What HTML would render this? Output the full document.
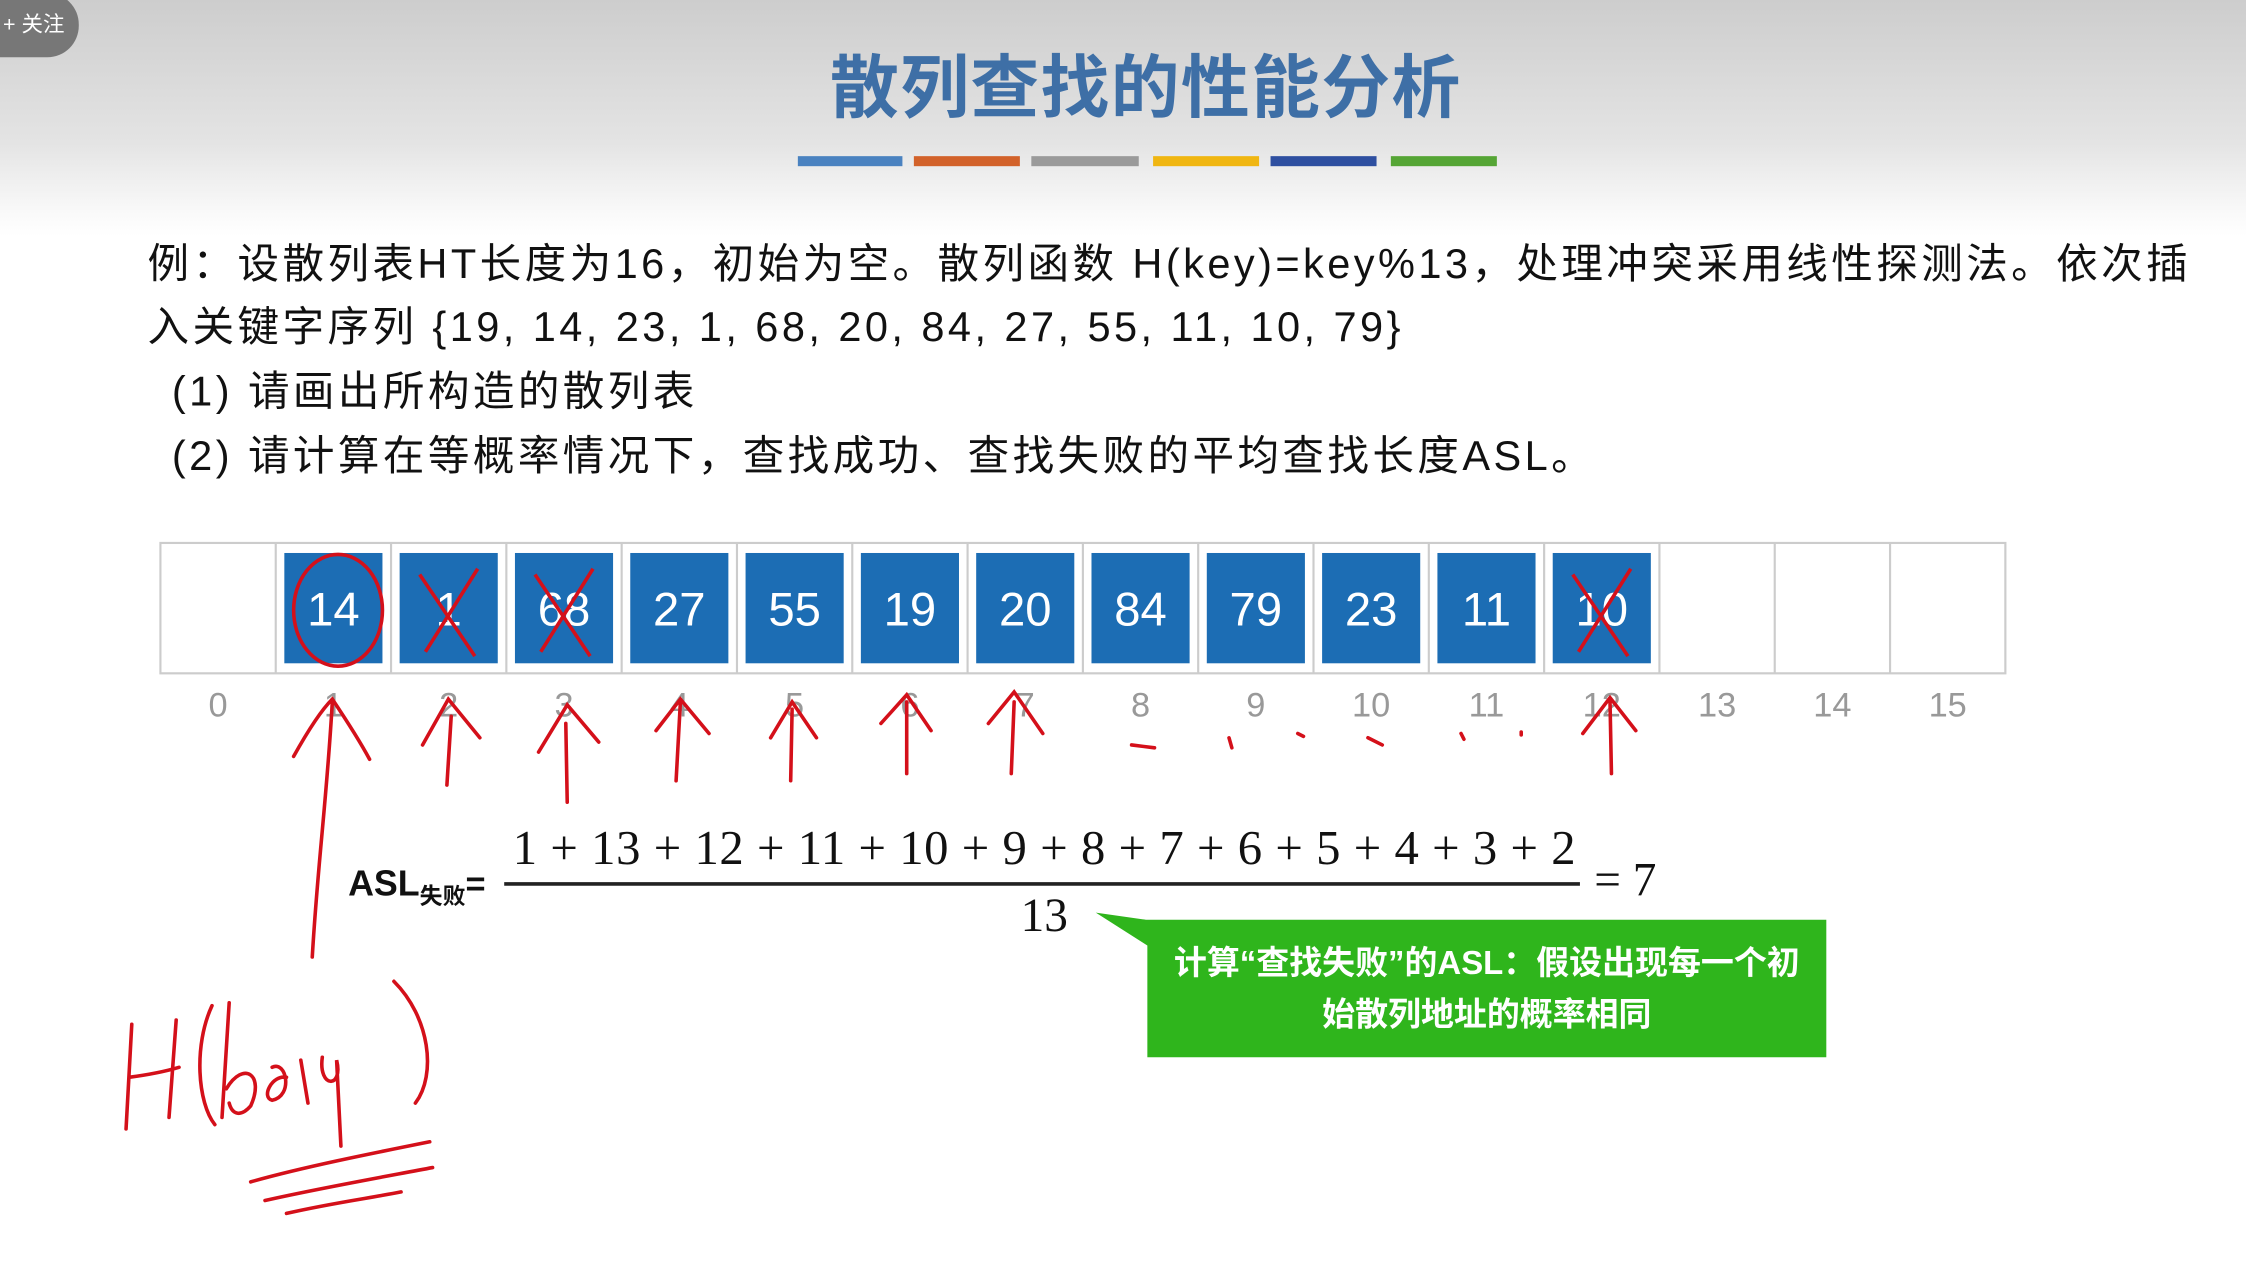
<!DOCTYPE html>
<html><head><meta charset="utf-8">
<style>
html,body{margin:0;padding:0;width:2246px;height:1265px;overflow:hidden;background:#fff}
#stage{position:absolute;left:0;top:0;width:1568px;height:883px;transform:scale(1.4324,1.4326);transform-origin:0 0;
 background:linear-gradient(#cdcdcd 0px,#e4e4e4 100px,#fafafa 150px,#fff 165px);font-family:"Liberation Sans","Noto Sans CJK SC",sans-serif}
.abs{position:absolute}
.txt{position:absolute;left:103px;font-size:29px;color:#111;white-space:nowrap;letter-spacing:2.4px}
</style></head><body>
<div id="stage">
 <div class="abs" style="left:-20px;top:-5px;width:75px;height:45px;border-radius:0 22px 22px 0;background:#777;color:#fff;font-size:15px;line-height:45px;text-align:right;padding-right:10px;box-sizing:border-box">+ 关注</div>
 <div class="abs" style="left:0;width:1600px;top:22px;text-align:center;font-size:48px;font-weight:bold;color:#3e6fa6;letter-spacing:1px">散列查找的性能分析</div>
 <div>
  <div class="abs" style="left:557px;top:109px;width:73px;height:7px;background:#4a82c0"></div>
  <div class="abs" style="left:638px;top:109px;width:74px;height:7px;background:#d2622a"></div>
  <div class="abs" style="left:720px;top:109px;width:75px;height:7px;background:#9a9a9a"></div>
  <div class="abs" style="left:805px;top:109px;width:74px;height:7px;background:#f0b612"></div>
  <div class="abs" style="left:887px;top:109px;width:74px;height:7px;background:#2e4fa0"></div>
  <div class="abs" style="left:971px;top:109px;width:74px;height:7px;background:#55a535"></div>
 </div>
 <div class="txt" style="top:161px">例：设散列表HT长度为16，初始为空。散列函数 H(key)=key%13，处理冲突采用线性探测法。依次插</div>
 <div class="txt" style="top:205px">入关键字序列 {19, 14, 23, 1, 68, 20, 84, 27, 55, 11, 10, 79}</div>
 <div class="txt" style="top:250px;left:120px">(1) 请画出所构造的散列表</div>
 <div class="txt" style="top:295px;left:120px">(2) 请计算在等概率情况下，查找成功、查找失败的平均查找长度ASL。</div>

 <svg class="abs" style="left:0;top:0" width="1568" height="883">
  <g id="table"></g>
  <g id="formula" font-family="Liberation Serif,serif" fill="#111">
   <text x="243" y="625" font-family="Liberation Sans,sans-serif" font-weight="bold" font-size="25">ASL<tspan font-size="16" dy="6" font-family="Noto Sans CJK SC,sans-serif">失败</tspan><tspan dy="-6" font-size="24">=</tspan></text>
   <text x="729" y="603" text-anchor="middle" font-size="34" textLength="742">1 + 13 + 12 + 11 + 10 + 9 + 8 + 7 + 6 + 5 + 4 + 3 + 2</text>
   <line x1="352" y1="617" x2="1103" y2="617" stroke="#222" stroke-width="2.5"/>
   <text x="729" y="650" text-anchor="middle" font-size="33">13</text>
   <text x="1113" y="625" font-size="33">= 7</text>
  </g>
  <g>
   <path d="M765,637 L800,642 L1275,642 L1275,738 L801,738 L801,660 Z" fill="#2fb51c"/>
   <text x="1038" y="680" text-anchor="middle" fill="#fff" font-size="23" font-weight="bold" font-family="Liberation Sans,Noto Sans CJK SC,sans-serif">计算“查找失败”的ASL：假设出现每一个初</text>
   <text x="1038" y="716" text-anchor="middle" fill="#fff" font-size="23" font-weight="bold" font-family="Liberation Sans,Noto Sans CJK SC,sans-serif">始散列地址的概率相同</text>
  </g>
  <g id="ink" fill="none" stroke="#d4101a" stroke-width="2.5" stroke-linecap="round">
   <ellipse cx="236" cy="426" rx="31" ry="39"/>
   <path d="M218,668 C222,600 228,560 232,490 M205,528 C215,510 225,495 232,488 C240,500 250,515 258,530"/>
   <path d="M88,788 L92,715 M90,752 C105,750 115,748 125,745 M123,712 L118,780"/>
   <path d="M148,702 C135,730 138,770 150,785"/>
   <path d="M160,700 L155,780 M158,760 C170,740 185,750 175,772 C168,780 162,778 160,770 M190,745 C200,740 205,765 190,768 C182,766 190,750 200,752 M210,740 L215,770 M225,738 C222,760 240,760 235,740 L238,800"/>
   <path d="M275,685 C300,710 305,750 290,770"/>
   <path d="M175,825 C210,815 260,805 300,797 M185,838 C220,830 265,822 302,815 M200,847 C230,840 260,836 280,832"/>
   <path d="M312,548 L315,500 M295,520 L313,488 L335,515"/>
   <path d="M396,560 L395,505 M376,525 L396,492 L418,518"/>
   <path d="M472,545 L475,490 M458,510 L475,488 L495,512"/>
   <path d="M552,545 L553,495 M538,515 L553,490 L570,515"/>
   <path d="M633,540 L633,490 M615,505 L633,485 L650,510"/>
   <path d="M706,540 L708,490 M690,505 L708,483 L728,512"/>
   <path d="M790,520 L806,522 M858,515 L860,522 M906,512 L910,514 M955,515 L965,520 M1020,512 L1022,516 M1062,511 L1062,513"/>
   <path d="M1125,540 L1124,490 M1105,512 L1124,487 L1142,510"/>
  </g>
 </svg>
</div>
<script>
const slotIndex=[0,1,2,3,4,5,6,7,8,9,10,11,12,13,14,15];
const slotKeys=[null,14,1,68,27,55,19,20,84,79,23,11,10,null,null,null];
const crossed=[false,false,true,true,false,false,false,false,false,false,false,false,true,false,false,false];
const NS='http://www.w3.org/2000/svg';
const g=document.getElementById('table');
const x0=112,cw=80.5,y0=379,h=91;
function cellX(i){return x0+i*cw;}
function mk(t,a){const e=document.createElementNS(NS,t);for(const k in a)e.setAttribute(k,a[k]);g.appendChild(e);return e;}
const outer=mk('rect',{x:x0,y:y0,width:cw*slotIndex.length,height:h,fill:'#fff',stroke:'#ccc','stroke-width':1.5});


slotIndex.forEach(i=>{
 const x=cellX(i);
 if(i>0){mk('line',{x1:x,y1:y0,x2:x,y2:y0+h,stroke:'#ccc','stroke-width':1.5});}
 const k=slotKeys[i];
 if(k!==null){
  const r=mk('rect',{x:x+6,y:y0+7,width:cw-12,height:h-14,fill:'#1c6db4'});
  
  
  const t=mk('text',{x:x+cw/2,y:y0+h/2+12,'text-anchor':'middle','font-size':33,fill:'#fff','font-family':'Liberation Sans,sans-serif'});
  t.textContent=k;
  
  
  if(crossed[i]){mk('path',{d:`M${x+20},${y0+22} L${x+cw-22},${y0+h-12} M${x+cw-20},${y0+18} L${x+24},${y0+h-15}`,stroke:'#d4101a','stroke-width':2.5,fill:'none'});}
 }
 const lb=mk('text',{x:x+cw/2,y:y0+h+30,'text-anchor':'middle','font-size':24,fill:'#999','font-family':'Liberation Sans,sans-serif'});
 lb.textContent=i;
 
 
});
</script>
</body></html>
